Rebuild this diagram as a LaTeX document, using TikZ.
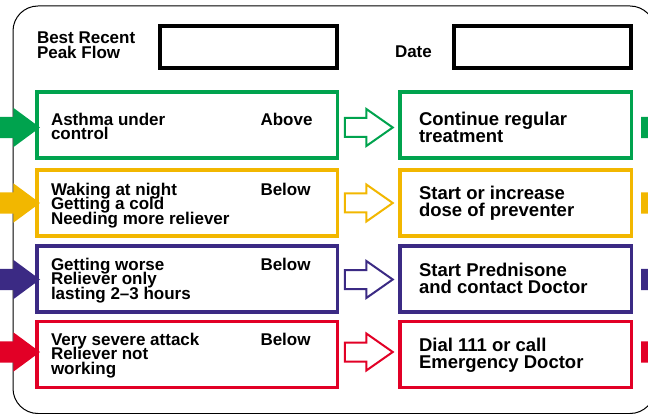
\documentclass[tikz,border=0pt]{standalone}
\usepackage{fontspec}
\setmainfont{Liberation Sans}
\usetikzlibrary{calc, shapes.arrows}

\definecolor{okgreen}{RGB}{0,163,78}
\definecolor{warnyellow}{RGB}{242,183,0}
\definecolor{worsepurple}{RGB}{59,42,132}
\definecolor{alarmred}{RGB}{226,0,38}
\lineskiplimit=-20pt

\begin{document}
\begin{tikzpicture}[x=1pt, y=-1pt,
    every node/.style={inner sep=0pt, outer sep=0pt},
    txt/.style={font=\bfseries\fontsize{17}{14.5}\selectfont, align=left, anchor=north west},
    acttxt/.style={txt, font=\bfseries\fontsize{18.5}{16.8}\selectfont},
    panel/.style={draw=#1, line width=3.5pt, minimum height=66pt},
    hollow/.style={single arrow, draw=#1, fill=white, line width=2pt, minimum height=48pt,
      single arrow head extend=9pt, single arrow tip angle=70, inner sep=8.5pt, anchor=tip},
    fullarrow/.style={single arrow, fill=#1, minimum height=60pt,
      single arrow head extend=9pt, single arrow tip angle=73, inner sep=10.5pt}]
  \useasboundingbox (0,0) rectangle (648,414);
  \clip (0,0) rectangle (648,414);
  \draw[rounded corners=25pt, line width=1pt] (13,6) rectangle (655,413.5);

  \node[draw, line width=4pt, minimum width=177pt, minimum height=42pt] (best) at (248.5,47) {};
  \node[draw, line width=4pt, minimum width=177pt, minimum height=42pt] (date) at (542.5,47) {};
  \node[txt] (besttxt) at (37,32) {Best Recent\\Peak Flow};
  \node[txt] (datetxt) at (395,46) {Date};

  % one row per zone: y centre, arrow y, colour, text offsets, texts
  \foreach \n/\yc/\ya/\col/\dl/\dr/\sym/\lvl/\act in {
    1/125/127.5/okgreen/0/0/{Asthma under\\control}/Above/{Continue regular\\treatment},
    2/203/203/warnyellow/-8/-4/{Waking at night\\Getting a cold\\Needing more reliever}/Below/{Start or increase\\dose of preventer},
    3/279/279.5/worsepurple/-9/-3/{Getting worse\\Reliever only\\lasting 2–3 hours}/Below/{Start Prednisone\\and contact Doctor},
    4/354.5/352/alarmred/-9.5/-3.5/{Very severe attack\\Reliever not\\working}/Below/{Dial 111 or call\\Emergency Doctor}}
  {
    \node[panel=\col, minimum width=300.5pt] (cond\n) at (187,\yc) {};
    \node[panel=\col, minimum width=231.5pt] (act\n) at (515.5,\yc) {};
    \node[txt] (sym\n) at (51,\yc+\dl-12.2) {\sym};
    \node[txt] (lvl\n) at (260.5,\yc+\dl-12.2) {\lvl};
    \node[acttxt] (todo\n) at (419,\yc+\dr-13.2) {\act};
    \node[hollow=\col] (go\n) at ($(act\n.west)+(-7,\ya-\yc)$) {};
    \node[fullarrow=\col, anchor=tip] (in\n) at ($(cond\n.west)+(3.25,\ya-\yc)$) {};
    \node[fullarrow=\col, anchor=tail] (out\n) at ($(act\n.east)+(9.75,\ya-\yc)$) {};
  }
\end{tikzpicture}
\end{document}
